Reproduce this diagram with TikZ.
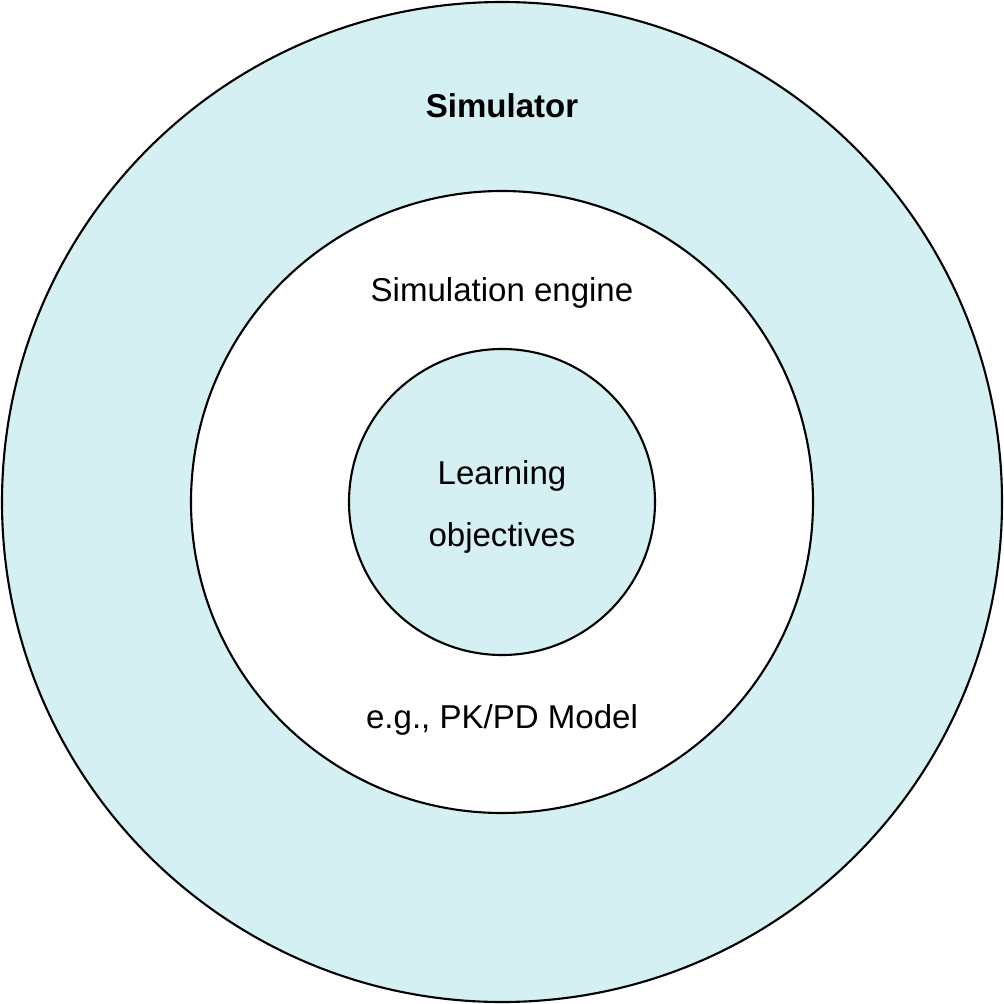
\documentclass[tikz,border=0pt]{standalone}
\usepackage{fontspec}
\setmainfont{Liberation Sans}
\definecolor{ringfill}{RGB}{213,240,243}
\begin{document}
\begin{tikzpicture}[x=0.25mm,y=-0.25mm,
  ring/.style={draw=black,line width=1.5pt},
  lbl/.style={font=\fontsize{23.5}{28}\selectfont,inner sep=0pt,anchor=base}]
\useasboundingbox (0,0) rectangle (1004,1004);
\draw[ring,fill=ringfill] (502,502) circle[radius=500];
\draw[ring,fill=white] (502,502) circle[radius=311];
\draw[ring,fill=ringfill] (502,502) circle[radius=153];
\node[lbl,font=\fontsize{23.5}{28}\selectfont\bfseries] (sim) at (502,117) {Simulator};
\node[lbl] (eng) at (502,301) {Simulation engine};
\node[lbl] (lo1) at (502,484) {Learning};
\node[lbl] (lo2) at (502,546) {objectives};
\node[lbl] (pk) at (502,728) {e.g., PK/PD Model};
\end{tikzpicture}
\end{document}
